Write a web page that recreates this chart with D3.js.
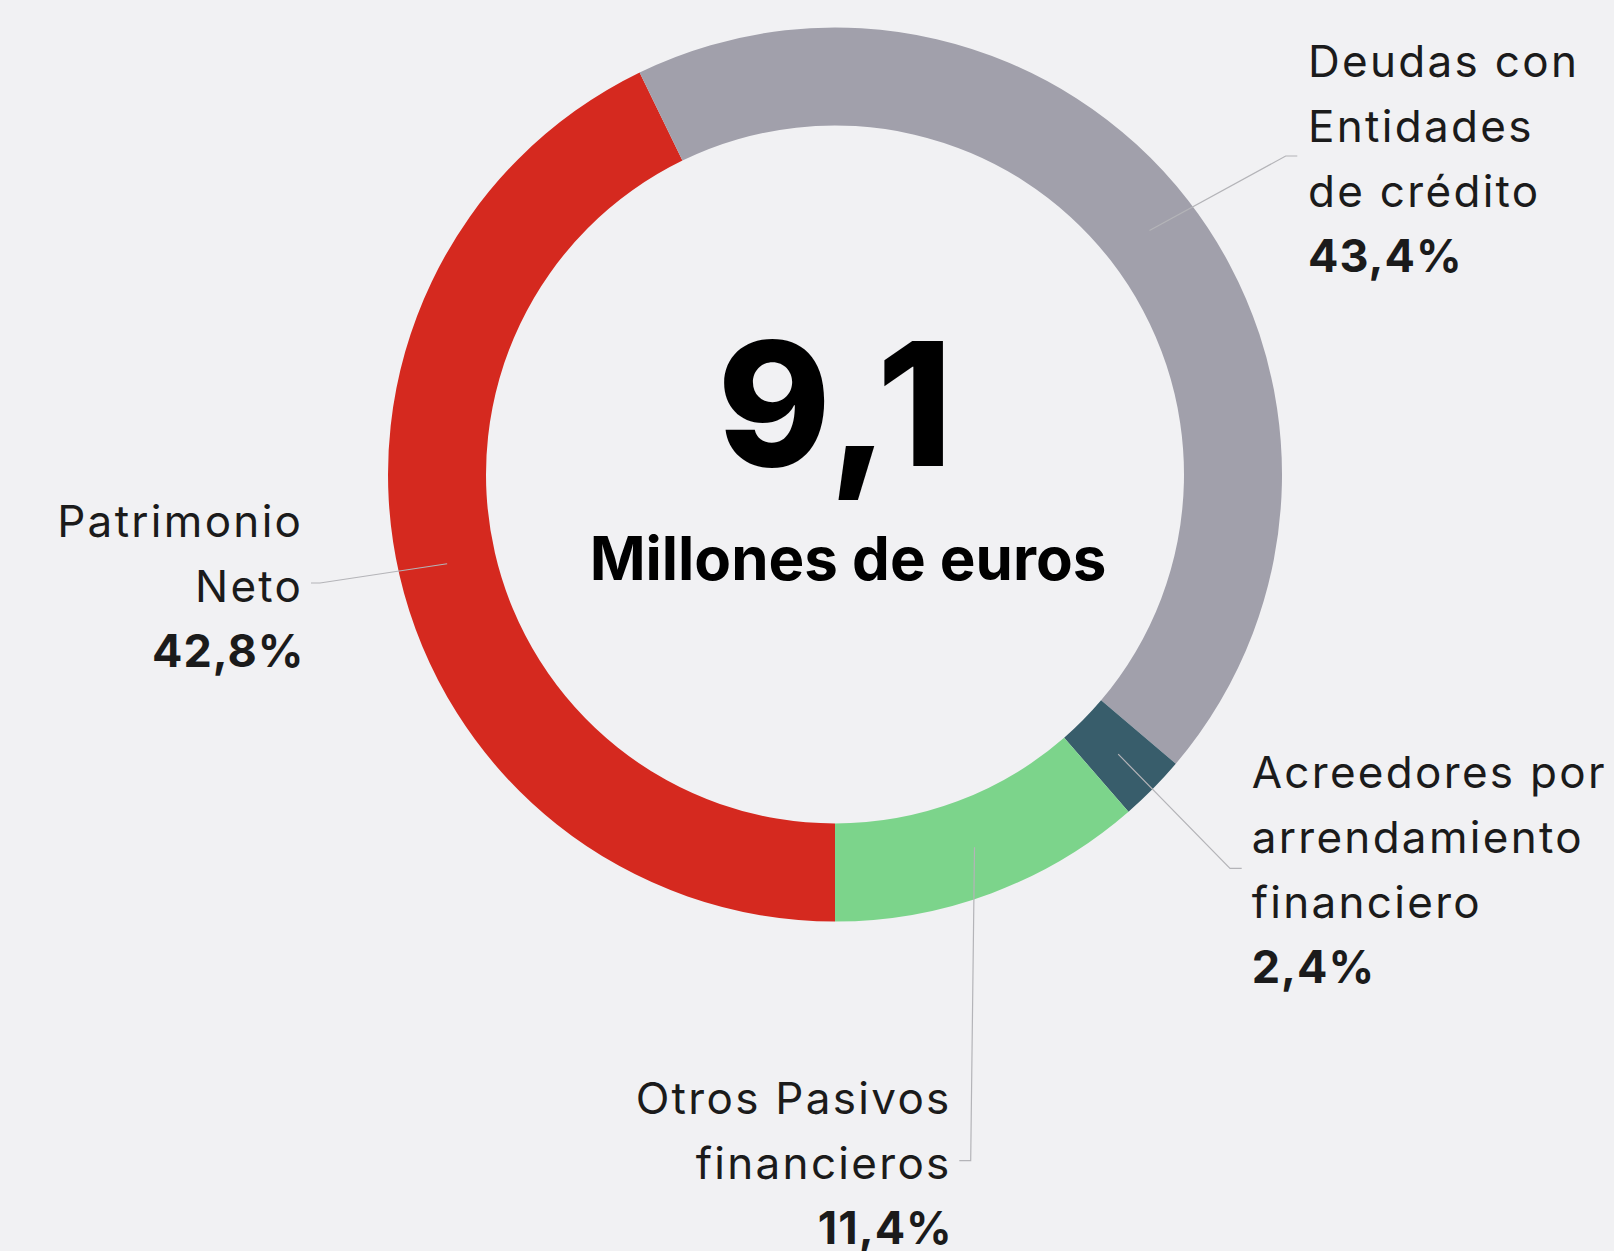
<!DOCTYPE html>
<html>
  <head>
    <meta charset="utf-8">
    <title>Pasivo</title>
    <style media="screen">
    body{margin: 0; background: #f1f1f3}
    svg{display: block}
    text{font-family: Inter, "Noto Sans", sans-serif; fill: #1b1b1b}
    </style>
  </head>
  <body>
    <script src="https://d3js.org/d3.v7.min.js"></script>
    <script type="text/javascript">
      var w = 1614, h = 1251;

      // data
      var categories = [
        ["Patrimonio", "Neto"],
        ["Deudas con", "Entidades", "de crédito"],
        ["Acreedores por", "arrendamiento", "financiero"],
        ["Otros Pasivos", "financieros"]
      ];
      var values = [42.8, 43.4, 2.4, 11.4];
      var colors = ["#d5291f", "#a1a0ab", "#385d6b", "#7cd48b"];
      var total = "9,1";
      var totalUnit = "Millones de euros";

      // label placement (anchor, first baseline, connector elbow)
      var labelPos = [
        {anchor: "end",   x: 301,    y: 536.7, ex: 320,    ey: 583,   tx: 311},
        {anchor: "start", x: 1308,   y: 76.7,  ex: 1285.7, ey: 156,   tx: 1297.3},
        {anchor: "start", x: 1251.7, y: 788.3, ex: 1230,   ey: 868.3, tx: 1241.7},
        {anchor: "end",   x: 949.3,  y: 1114.3, ex: 970.7, ey: 1160.7, tx: 959.3}
      ];

      var cx = 835, cy = 474.5, rOut = 447, rIn = 349, lineH = 65;

      var fmt = function(v){ return d3.format(".1f")(v).replace(".", ",") + "%" };

      var pie = d3.pie().sort(null).startAngle(Math.PI).endAngle(3 * Math.PI);
      var arcs = pie(values);

      var arc = d3.arc().innerRadius(rIn).outerRadius(rOut);
      var mid = d3.arc().innerRadius((rIn + rOut) / 2).outerRadius((rIn + rOut) / 2);

      var svg = d3.select('body').append('svg')
        .attr('width', w)
        .attr('height', h)

      svg.append('rect').attr('width', w).attr('height', h).attr('fill', '#f1f1f3')

      var g = svg.append('g').attr('transform', 'translate(' + cx + ',' + cy + ')')

      g.selectAll('path.slice')
        .data(arcs)
        .enter()
          .append('path')
          .attr('class', 'slice')
          .attr('d', arc)
          .attr('fill', function(d, i){ return colors[i] })

      // connectors
      svg.selectAll('polyline')
        .data(arcs)
        .enter()
          .append('polyline')
          .attr('fill', 'none')
          .attr('stroke', '#b4b4b8')
          .attr('stroke-width', 1.2)
          .attr('points', function(d, i){
            var c = mid.centroid(d), p = labelPos[i];
            return [[cx + c[0], cy + c[1]], [p.ex, p.ey], [p.tx, p.ey]].join(' ')
          })

      // labels
      var lab = svg.selectAll('text.lab')
        .data(arcs)
        .enter()
          .append('text')
          .attr('class', 'lab')
          .attr('text-anchor', function(d, i){ return labelPos[i].anchor })
          .attr('font-size', 44)

      lab.each(function(d, i){
        var t = d3.select(this), p = labelPos[i];
        var lines = categories[i];
        var isEnd = p.anchor == "end";
        // trailing letter-spacing pushes end-anchored text left; compensate
        lines.forEach(function(s, k){
          t.append('tspan')
            .attr('x', p.x + (isEnd ? 2.3 : 0))
            .attr('y', p.y + k * lineH)
            .attr('letter-spacing', 2.3)
            .text(s)
        })
        t.append('tspan')
          .attr('x', p.x + (isEnd ? 3.5 : 0))
          .attr('y', p.y + lines.length * lineH)
          .attr('font-weight', 700)
          .attr('font-size', 45)
          .attr('letter-spacing', 1)
          .text(fmt(values[i]))
      })

      // centre
      svg.append('text')
        .attr('x', cx + 1.5)
        .attr('y', 466)
        .attr('text-anchor', 'middle')
        .attr('font-size', 172)
        .attr('font-weight', 800)
        .attr('letter-spacing', 3)
        .style('fill', '#000')
        .text(total)

      svg.append('text')
        .attr('x', 848)
        .attr('y', 580)
        .attr('text-anchor', 'middle')
        .attr('font-size', 60)
        .attr('font-weight', 700)
        .style('fill', '#000')
        .text(totalUnit)

    </script>

  </body>
</html>
